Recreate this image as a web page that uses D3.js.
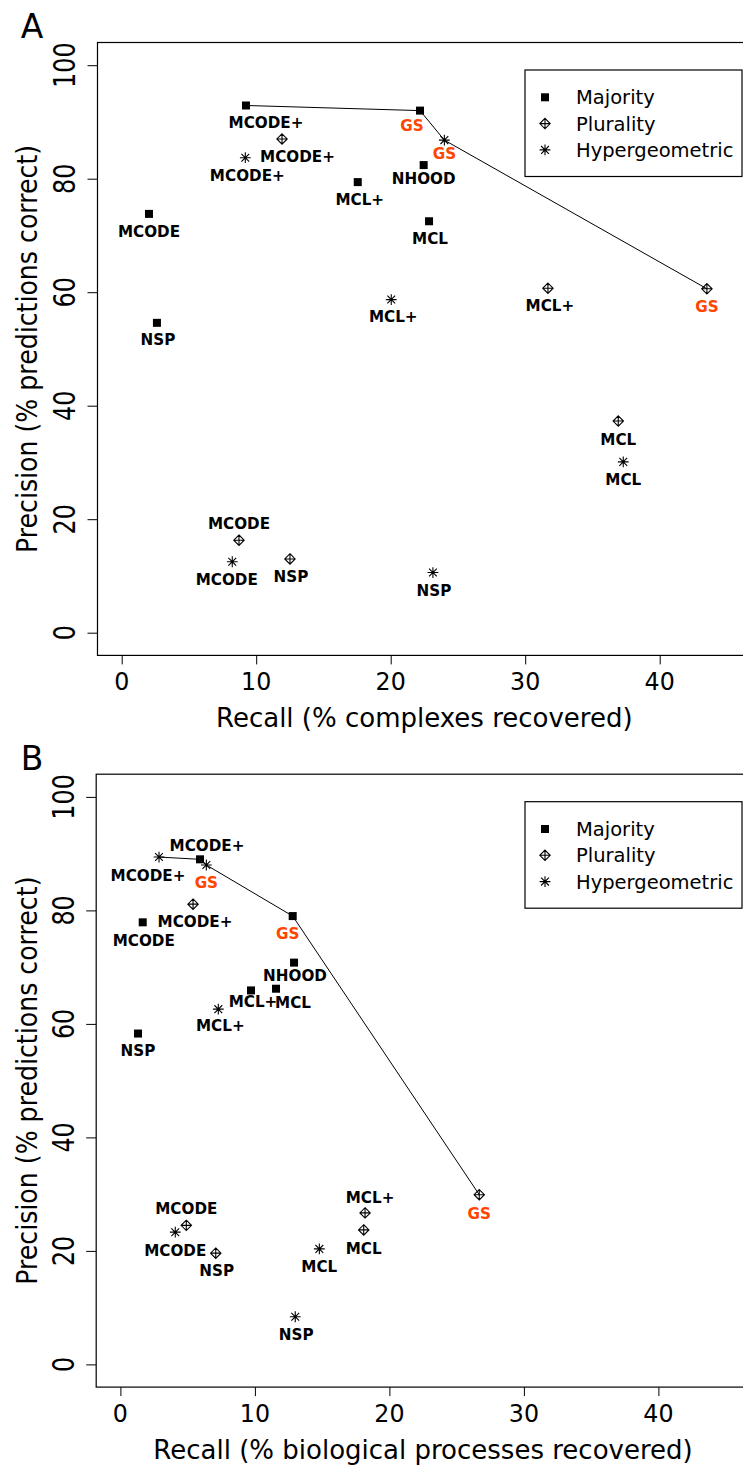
<!DOCTYPE html>
<html>
<head>
<meta charset="utf-8">
<script src="https://cdn.jsdelivr.net/npm/d3@7"></script>
<style>
  body { margin: 0; background: #fff; }
  svg { display: block; }
  text { font-family: "DejaVu Sans", sans-serif; fill: #000; }
</style>
</head>
<body>
<svg id="chart" width="743" height="1467"></svg>
<script>
// ---- Methods -------------------------------------------------------------
const methodsMajority = ["MCODE", "MCODE+", "MCL", "MCL+", "NHOOD", "NSP", "GS"];
const methodsPlurality = ["MCODE", "MCODE+", "MCL", "MCL+", "NSP", "GS"];
const methodsHypergeometric = ["MCODE", "MCODE+", "MCL", "MCL+", "NSP", "GS"];
const seriesNames = ["Majority", "Plurality", "Hypergeometric"];

// ---- Panel A: complexes ----------------------------------------------------
const complexRecallMajority = [2.03, 9.24, 22.85, 17.55, 22.45, 2.62, 22.18];
const complexPrecisionMajority = [73.8, 92.9, 72.5, 79.4, 82.4, 54.6, 92.0];
const complexRecallPlurality = [8.72, 11.92, 36.92, 31.69, 12.51, 43.51];
const complexPrecisionPlurality = [16.3, 87.0, 37.3, 60.7, 13.0, 60.6];
const complexRecallHypergeometric = [8.22, 9.19, 37.29, 20.04, 23.14, 23.99];
const complexPrecisionHypergeometric = [12.5, 83.7, 30.1, 58.7, 10.6, 86.8];
const complexFrontier = [["Majority", "MCODE+"], ["Majority", "GS"], ["Hypergeometric", "GS"], ["Plurality", "GS"]];

// ---- Panel B: biological processes ----------------------------------------
const processRecallMajority = [1.66, 5.92, 11.57, 9.71, 12.91, 1.31, 12.81];
const processPrecisionMajority = [77.9, 89.0, 66.2, 65.9, 70.8, 58.3, 79.0];
const processRecallPlurality = [4.90, 5.40, 18.09, 18.19, 7.09, 26.68];
const processPrecisionPlurality = [24.5, 81.1, 23.7, 26.7, 19.6, 29.9];
const processRecallHypergeometric = [4.08, 2.87, 14.79, 7.28, 13.0, 6.39];
const processPrecisionHypergeometric = [23.3, 89.4, 20.35, 62.6, 8.4, 88.0];
const processFrontier = [["Hypergeometric", "MCODE+"], ["Majority", "MCODE+"], ["Hypergeometric", "GS"], ["Majority", "GS"], ["Plurality", "GS"]];

// ---- Axes ----------------------------------------------------------------------
const xTicks = [0, 10, 20, 30, 40];
const yTicks = [0, 20, 40, 60, 80, 100];
const xDomain = [0, 45];
const yDomain = [0, 100];

// ---- Label placement (pixel nudges from the point: [dx, dy of label centre]) ----
const complexLabelNudge = {
  "Majority|MCODE+": [20, 17], "Majority|GS": [-8, 15], "Hypergeometric|GS": [0, 13],
  "Plurality|MCODE+": [15.5, 17], "Hypergeometric|MCODE+": [2, 17], "Majority|NHOOD": [0, 13],
  "Majority|MCL+": [2, 17], "Majority|MCODE": [0, 17], "Majority|MCL": [1, 17],
  "Hypergeometric|MCL+": [2, 17], "Majority|NSP": [1, 16], "Plurality|MCL+": [2, 17],
  "Plurality|GS": [0, 17], "Plurality|MCL": [0, 18], "Hypergeometric|MCL": [0, 17.5],
  "Plurality|MCODE": [0, -17], "Hypergeometric|MCODE": [-5.5, 17], "Plurality|NSP": [1, 17],
  "Hypergeometric|NSP": [1, 17.7]
};
const processLabelNudge = {
  "Hypergeometric|MCODE+": [-11, 18], "Majority|MCODE+": [7, -14], "Hypergeometric|GS": [0, 17],
  "Plurality|MCODE+": [2, 17], "Majority|MCODE": [1, 18], "Majority|GS": [-5, 17],
  "Majority|NHOOD": [1, 13], "Majority|MCL+": [2, 11], "Majority|MCL": [17, 13],
  "Hypergeometric|MCL+": [2, 16], "Majority|NSP": [0, 17], "Plurality|GS": [0, 18],
  "Plurality|MCL+": [5, -16], "Plurality|MCL": [0, 18], "Plurality|MCODE": [0, -17],
  "Hypergeometric|MCODE": [0, 17.7], "Plurality|NSP": [1, 17], "Hypergeometric|MCL": [0, 17],
  "Hypergeometric|NSP": [1, 17]
};

const panels = [
  {
    letter: "A", xTitle: "Recall (% complexes recovered)",
    zeroX: 121.7, zeroY: 632.7,
    series: {
      Majority: { methods: methodsMajority, recall: complexRecallMajority, precision: complexPrecisionMajority },
      Plurality: { methods: methodsPlurality, recall: complexRecallPlurality, precision: complexPrecisionPlurality },
      Hypergeometric: { methods: methodsHypergeometric, recall: complexRecallHypergeometric, precision: complexPrecisionHypergeometric }
    },
    frontier: complexFrontier, nudge: complexLabelNudge
  },
  {
    letter: "B", xTitle: "Recall (% biological processes recovered)",
    zeroX: 120.4, zeroY: 1364.4,
    series: {
      Majority: { methods: methodsMajority, recall: processRecallMajority, precision: processPrecisionMajority },
      Plurality: { methods: methodsPlurality, recall: processRecallPlurality, precision: processPrecisionPlurality },
      Hypergeometric: { methods: methodsHypergeometric, recall: processRecallHypergeometric, precision: processPrecisionHypergeometric }
    },
    frontier: processFrontier, nudge: processLabelNudge
  }
];

const PX_PER_X = 13.45, PX_PER_Y = 5.675;
const GS_COLOR = "#ff4500";
const svg = d3.select("#chart");

// R-style 4% padding around the axis limits
function padded(d) { const p = (d[1] - d[0]) * 0.04; return [d[0] - p, d[1] + p]; }

// Plot symbols: filled square, diamond-plus, asterisk
function drawSymbol(g, kind, cx, cy) {
  if (kind === "Majority") {
    g.append("rect").attr("x", cx - 4).attr("y", cy - 4).attr("width", 8).attr("height", 8).attr("fill", "#000");
  } else if (kind === "Plurality") {
    const r = 5.2;
    g.append("path")
      .attr("d", `M${cx},${cy - r}L${cx + r},${cy}L${cx},${cy + r}L${cx - r},${cy}Z M${cx - r},${cy}H${cx + r} M${cx},${cy - r}V${cy + r}`)
      .attr("fill", "none").attr("stroke", "#000").attr("stroke-width", 1.1);
  } else {
    const r = 5.4, d = 3.9;
    g.append("path")
      .attr("d", `M${cx - r},${cy}H${cx + r} M${cx},${cy - r}V${cy + r} M${cx - d},${cy - d}L${cx + d},${cy + d} M${cx - d},${cy + d}L${cx + d},${cy - d}`)
      .attr("fill", "none").attr("stroke", "#000").attr("stroke-width", 1.1);
  }
}

panels.forEach(p => {
  const xd = padded(xDomain), yd = padded(yDomain);
  const x = d3.scaleLinear().domain(xd).range([p.zeroX + xd[0] * PX_PER_X, p.zeroX + xd[1] * PX_PER_X]);
  const y = d3.scaleLinear().domain(yd).range([p.zeroY - yd[0] * PX_PER_Y, p.zeroY - yd[1] * PX_PER_Y]);
  const g = svg.append("g");
  const left = x(xd[0]), right = x(xd[1]), top = y(yd[1]), bottom = y(yd[0]);

  // frame
  g.append("rect").attr("x", left).attr("y", top).attr("width", right - left).attr("height", bottom - top)
    .attr("fill", "none").attr("stroke", "#000").attr("stroke-width", 1.2);

  // x axis
  const xa = g.append("g").attr("transform", `translate(0,${bottom})`)
    .call(d3.axisBottom(x).tickValues(xTicks).tickSize(9).tickFormat(""));
  xa.select(".domain").remove();
  xa.selectAll(".tick line").attr("stroke", "#000").attr("stroke-width", 1);
  xTicks.forEach(t => {
    g.append("text").attr("transform", `translate(${x(t)},${bottom + 34.7}) scale(0.95,1)`)
      .attr("text-anchor", "middle").attr("font-size", 25).text(t);
  });
  g.append("text").attr("x", x((xDomain[0] + xDomain[1]) / 2)).attr("y", bottom + 72)
    .attr("text-anchor", "middle").attr("font-size", 26).text(p.xTitle);

  // y axis
  const ya = g.append("g").attr("transform", `translate(${left},0)`)
    .call(d3.axisLeft(y).tickValues(yTicks).tickSize(10).tickFormat(""));
  ya.select(".domain").remove();
  ya.selectAll(".tick line").attr("stroke", "#000").attr("stroke-width", 1);
  yTicks.forEach(t => {
    g.append("text").attr("transform", `translate(${left - 22},${y(t)}) rotate(-90) scale(0.77,1)`)
      .attr("text-anchor", "middle").attr("font-size", 31).text(t);
  });
  g.append("text").attr("transform", `translate(37,${(top + bottom) / 2}) rotate(-90) scale(0.87,1)`)
    .attr("text-anchor", "middle").attr("font-size", 29).text("Precision (% predictions correct)");

  // panel letter
  g.append("text").attr("x", 32).attr("y", top - 4.5).attr("text-anchor", "middle")
    .attr("font-size", 33).text(p.letter);

  // frontier line
  const linePts = p.frontier.map(([s, m]) => {
    const ser = p.series[s], i = ser.methods.indexOf(m);
    return [ser.recall[i], ser.precision[i]];
  });
  g.append("path").attr("d", d3.line().x(d => x(d[0])).y(d => y(d[1]))(linePts))
    .attr("fill", "none").attr("stroke", "#000").attr("stroke-width", 1);

  // points and labels
  seriesNames.forEach(s => {
    const ser = p.series[s];
    ser.methods.forEach((m, i) => {
      const cx = x(ser.recall[i]), cy = y(ser.precision[i]);
      drawSymbol(g, s, cx, cy);
      const nd = p.nudge[`${s}|${m}`] || [0, 17];
      g.append("text")
        .attr("transform", `translate(${cx + nd[0]},${cy + nd[1] + 5.8}) scale(0.95,1)`)
        .attr("text-anchor", "middle").attr("font-size", 16).attr("font-weight", "bold")
        .style("fill", m === "GS" ? GS_COLOR : "#000").text(m);
    });
  });

  // legend
  const lgTop = top + 27.5, lgLeft = 525, lgRight = 742;
  g.append("rect").attr("x", lgLeft).attr("y", lgTop).attr("width", lgRight - lgLeft).attr("height", 106.5)
    .attr("fill", "#fff").attr("stroke", "#000").attr("stroke-width", 1.2);
  seriesNames.forEach((s, i) => {
    const ry = lgTop + 27.3 + i * 26.3;
    drawSymbol(g, s, 545, ry);
    g.append("text").attr("x", 576).attr("y", ry + 7).attr("font-size", 19.5).text(s);
  });
});
</script>
</body>
</html>
